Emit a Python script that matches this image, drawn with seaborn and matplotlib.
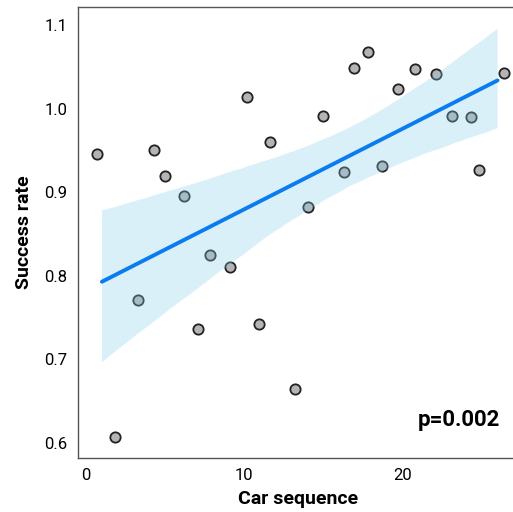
import matplotlib
matplotlib.use('Agg')
import matplotlib.pyplot as plt
import seaborn as sns
import pandas as pd

# car sequence (regression) and plotted (jittered) positions
car_seq = [1, 2, 3, 4, 5, 6, 7, 8, 9, 10, 11, 12, 13,
           14, 15, 16, 17, 18, 19, 20, 21, 22, 23, 24, 25, 26]
x_shown = [0.7, 1.8, 3.3, 4.3, 5.0, 6.2, 7.1, 7.8, 9.1, 10.2, 10.9, 11.6, 13.2,
           14.0, 15.0, 16.3, 16.9, 17.8, 18.7, 19.7, 20.8, 22.1, 23.1, 24.3, 24.8, 26.4]
success = [0.946, 0.607, 0.771, 0.950, 0.919, 0.895, 0.736, 0.825, 0.810, 1.014, 0.742, 0.960, 0.664,
           0.882, 0.991, 0.924, 1.049, 1.068, 0.931, 1.023, 1.047, 1.041, 0.991, 0.990, 0.926, 1.043]

df = pd.DataFrame({'seq': car_seq, 'x': x_shown, 'rate': success})

sns.set_style('white')
plt.rcParams['font.family'] = ['Roboto', 'DejaVu Sans']
plt.rcParams['text.color'] = 'black'
plt.rcParams['axes.labelcolor'] = 'black'

fig = plt.figure(figsize=(5.13, 5.12), dpi=100)
ax = fig.add_axes([78 / 513, 1 - 458 / 512, 1 - 78 / 513 + 0.01, (458 - 7) / 512])

sns.scatterplot(data=df, x='x', y='rate', color='#b4b4b4', edgecolor='#222222',
                linewidth=1.3, s=55, ax=ax, zorder=2)
sns.regplot(data=df, x='seq', y='rate', scatter=False, ci=95, n_boot=5000, seed=3,
            line_kws={'color': '#0a7cf0', 'lw': 2.8}, ax=ax)
for c in ax.collections[1:]:
    c.set_facecolor('#87ceeb')
    c.set_edgecolor('none')
    c.set_alpha(0.3)
    c.set_zorder(3)
ax.lines[-1].set_zorder(4)

ax.set_xlim(-0.51, 27.3)
ax.set_ylim(0.582, 1.1215)
ax.set_xticks([0, 10, 20])
ax.set_yticks([0.6, 0.7, 0.8, 0.9, 1.0, 1.1])
ax.set_yticklabels(['0.6', '0.7', '0.8', '0.9', '1.0', '1.1'])
ax.tick_params(axis='both', length=4, width=0.8, colors='#555555', labelsize=12, labelcolor='black')
for side in ['left', 'bottom', 'top']:
    ax.spines[side].set_color('#555555')
    ax.spines[side].set_linewidth(1.0)
ax.spines['right'].set_visible(False)

ax.set_xlabel('Car sequence', fontsize=14, fontweight='bold', labelpad=5)
ax.set_ylabel('Success rate', fontsize=14, fontweight='bold', labelpad=8)
ax.text(0.96, 0.06, 'p=0.002', transform=ax.transAxes, ha='right', va='bottom',
        fontsize=16, fontweight='bold')

plt.savefig('out.png', dpi=100)
